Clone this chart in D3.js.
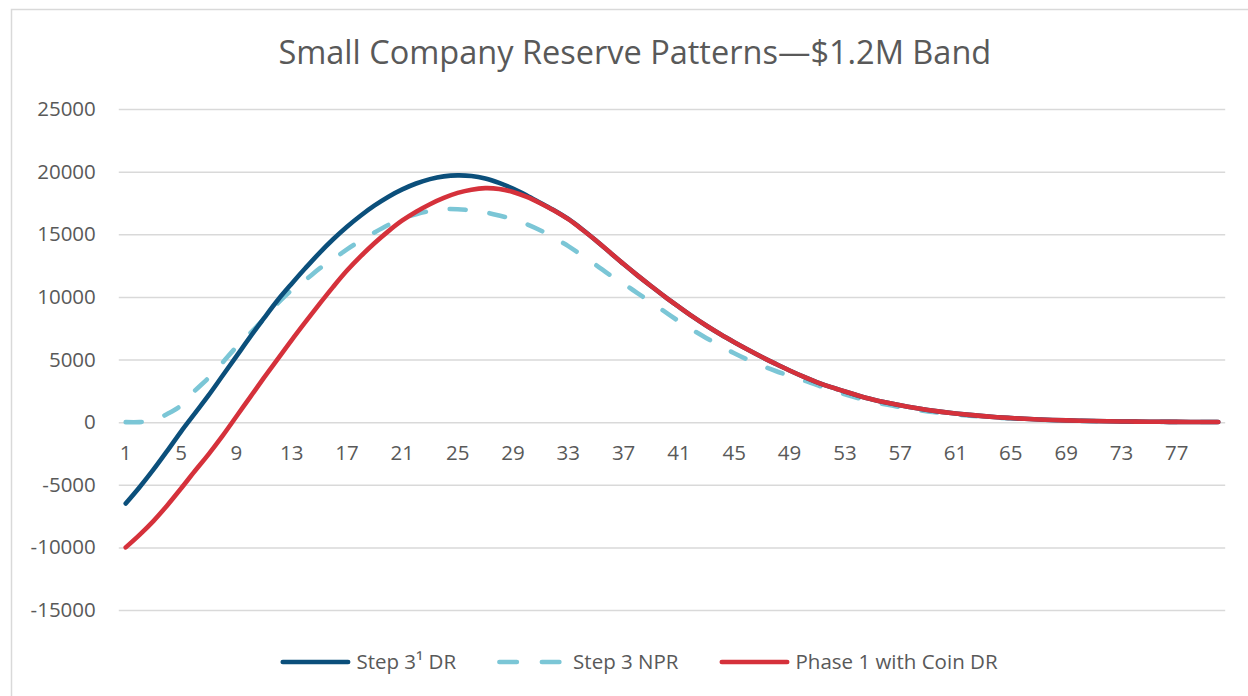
<!DOCTYPE html>
<html>
<head>
<meta charset="utf-8">
<script src="https://cdn.jsdelivr.net/npm/d3@7"></script>
<style>
  html, body { margin: 0; padding: 0; background: #fff; }
  svg { display: block; }
</style>
</head>
<body>
<div id="chart"></div>
<script>
/* Small Company Reserve Patterns chart */

// --- Data ---
const periods = d3.range(1, 81);
const tickPeriods = d3.range(1, 80, 4);
const yTicks = [-15000, -10000, -5000, 0, 5000, 10000, 15000, 20000, 25000];

const step3DR = [
  -6500, -5200, -3800, -2300, -750, 700, 2150, 3700, 5250, 6800,
  8300, 9750, 11050, 12300, 13500, 14600, 15600, 16500, 17300, 18000,
  18580, 19050, 19400, 19620, 19700, 19650, 19450, 19100, 18650, 18100,
  17500, 16900, 16220, 15400, 14500, 13560, 12620, 11720, 10850, 10000,
  9200, 8420, 7690, 7010, 6380, 5780, 5200, 4650, 4120, 3630,
  3180, 2790, 2440, 2110, 1810, 1560, 1340, 1140, 970, 820,
  690, 580, 480, 395, 325, 265, 215, 175, 140, 110,
  88, 70, 55, 43, 33, 26, 20, 15, 11, 8
];

const step3NPR = [
  0, 0, 120, 650, 1330, 2500, 3550, 4750, 6000, 7100,
  8250, 9500, 10550, 11350, 12250, 13000, 13800, 14500, 15150, 15750,
  16250, 16600, 16850, 17000, 17000, 16900, 16750, 16500, 16200, 15800,
  15300, 14700, 14050, 13300, 12550, 11750, 11050, 10300, 9550, 8800,
  8050, 7350, 6700, 6080, 5500, 4970, 4500, 4080, 3700, 3340,
  2950, 2580, 2230, 1910, 1640, 1400, 1190, 1010, 860, 730,
  615, 515, 430, 355, 290, 238, 192, 155, 124, 98,
  78, 60, 47, 36, 27, 20, 15, 11, 8, 6
];

const phase1Coin = [
  -10000, -9000, -7900, -6650, -5300, -3900, -2550, -1100, 450, 2000,
  3550, 5050, 6550, 8000, 9420, 10800, 12100, 13250, 14300, 15250,
  16100, 16800, 17400, 17900, 18300, 18560, 18680, 18620, 18380, 17980,
  17460, 16880, 16200, 15380, 14500, 13560, 12620, 11720, 10850, 10000,
  9200, 8420, 7690, 7010, 6380, 5780, 5200, 4650, 4120, 3630,
  3180, 2790, 2440, 2110, 1810, 1560, 1340, 1140, 970, 820,
  690, 580, 480, 395, 325, 265, 215, 175, 140, 110,
  88, 70, 55, 43, 33, 26, 20, 15, 11, 8
];

const seriesNames = ["Step 3\u00b9 DR", "Step 3 NPR", "Phase 1 with Coin DR"];
const seriesValues = [step3DR, step3NPR, phase1Coin];
const seriesColors = ["#0b4f7b", "#7bc6d6", "#d5313b"];
const seriesDash = [null, "16 24", null];

const title = "Small Company Reserve Patterns\u2014$1.2M Band";

// --- Layout ---
const W = 1248, H = 696;
const plot = { left: 118.8, right: 1225.2, top: 109, bottom: 610 };
const FONT = "'Open Sans', 'DejaVu Sans', sans-serif";
const TEXT = "#595959";

const svg = d3.select("#chart").append("svg")
  .attr("width", W)
  .attr("height", H);

// chart frame
svg.append("rect")
  .attr("x", 11.5).attr("y", 9.5)
  .attr("width", W + 20).attr("height", H + 20)
  .attr("fill", "#fff")
  .attr("stroke", "#d9d9d9")
  .attr("stroke-width", 1.5);

const x = d3.scaleBand().domain(periods).range([plot.left, plot.right]).padding(0);
const cx = (d) => x(d) + x.bandwidth() / 2;
const y = d3.scaleLinear().domain([-15000, 25000]).range([plot.bottom, plot.top]);

// Title
const titleText = svg.append("text")
  .attr("x", 634.8)
  .attr("y", 64)
  .attr("text-anchor", "middle")
  .attr("font-family", FONT)
  .attr("font-size", 32.5)
  .attr("fill", TEXT)
  .text(title);
if (titleText.node().getComputedTextLength() > 715) {
  titleText.attr("textLength", 712).attr("lengthAdjust", "spacingAndGlyphs");
}

// Gridlines + y labels
const yAxis = d3.axisLeft(y)
  .tickValues(yTicks)
  .tickFormat((d) => String(d))
  .tickSize(-(plot.right - plot.left))
  .tickPadding(23);
const gy = svg.append("g")
  .attr("transform", `translate(${plot.left},0)`)
  .call(yAxis);
gy.select(".domain").remove();
gy.selectAll(".tick line").attr("stroke", "#d9d9d9").attr("stroke-width", 1.5);
gy.selectAll(".tick text")
  .attr("font-family", FONT)
  .attr("font-size", 20.5)
  .attr("fill", TEXT);

// x labels sit under the zero line
const xAxis = d3.axisBottom(x).tickValues(tickPeriods).tickSize(0).tickPadding(0);
const gx = svg.append("g")
  .attr("transform", `translate(0,${y(0)})`)
  .call(xAxis);
gx.select(".domain").remove();
gx.selectAll(".tick text")
  .attr("y", 38)
  .attr("dy", null)
  .attr("font-family", FONT)
  .attr("font-size", 20.5)
  .attr("fill", TEXT);

// Lines
const line = d3.line()
  .x((d, i) => cx(periods[i]))
  .y((d) => y(d))
  .curve(d3.curveCatmullRom.alpha(0.5));

// draw order: NPR (dashed) first, then DR, then Coin DR on top
[1, 0, 2].forEach((k) => {
  svg.append("path")
    .datum(seriesValues[k])
    .attr("d", line)
    .attr("fill", "none")
    .attr("stroke", seriesColors[k])
    .attr("stroke-width", 4.6)
    .attr("stroke-linecap", "round")
    .attr("stroke-linejoin", "round")
    .attr("stroke-dasharray", seriesDash[k]);
});

// Legend
const legendY = 662;
const legend = svg.append("g");
const items = seriesNames.map((name, k) => {
  const g = legend.append("g");
  g.append("line")
    .attr("x1", 2.3).attr("x2", 67.7)
    .attr("y1", legendY).attr("y2", legendY)
    .attr("stroke", seriesColors[k])
    .attr("stroke-width", 4.6)
    .attr("stroke-linecap", "round")
    .attr("stroke-dasharray", seriesDash[k] ? "17.5 25" : null);
  const t = g.append("text")
    .attr("x", 76)
    .attr("y", legendY)
    .attr("dy", "0.35em")
    .attr("font-family", FONT)
    .attr("font-size", 20.5)
    .attr("fill", TEXT)
    .text(name);
  return { g, w: 76 + t.node().getComputedTextLength() };
});
const gap = 41;
const total = d3.sum(items, (d) => d.w) + gap * (items.length - 1);
let lx = 639 - total / 2;
items.forEach((it) => {
  it.g.attr("transform", `translate(${lx},0)`);
  lx += it.w + gap;
});
</script>
</body>
</html>
